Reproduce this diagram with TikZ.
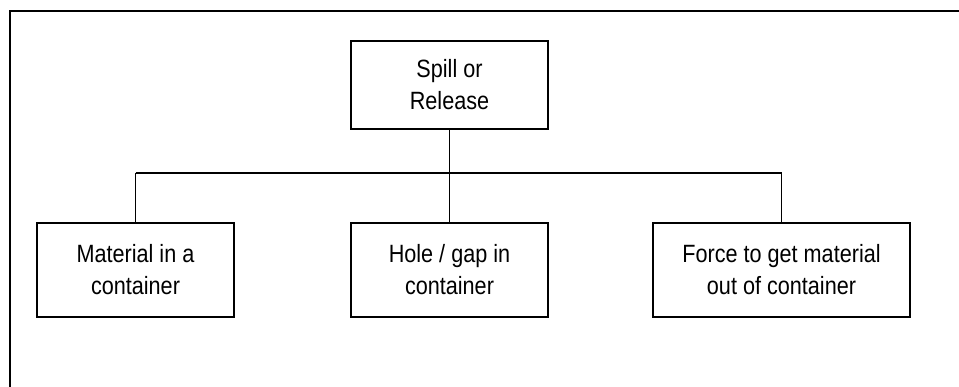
\documentclass[tikz,border=0pt]{standalone}
\usepackage{fontspec}
\setmainfont{Liberation Sans}[FakeStretch=0.865]
\begin{document}
\begin{tikzpicture}[x=1pt,y=-1pt,
  box/.style={draw=black,line width=2pt,align=center,inner sep=0pt,
    font=\fontsize{25}{32}\selectfont},
  link/.style={draw=black,line width=1.8pt}]
\useasboundingbox (0,0) rectangle (959,387);
% outer frame (top and left edges)
\draw[line width=2.6pt] (959,11) -- (10,11) -- (10,387);
% nodes
\node[box,minimum width=197pt,minimum height=88pt] (top) at (449.5,85) {Spill or\\Release};
\node[box,minimum width=197pt,minimum height=94pt] (left) at (135.5,270) {Material in a\\container};
\node[box,minimum width=197pt,minimum height=94pt] (mid) at (449.5,270) {Hole / gap in\\container};
\node[box,minimum width=257pt,minimum height=94pt] (right) at (781.5,270) {Force to get material\\out of container};
% bus coordinates
\coordinate (busL) at (135.5,173);
\coordinate (busM) at (449.5,173);
\coordinate (busR) at (781.5,173);
% connectors
\draw[link] (top.south) -- (busM);
\draw[link] (busL) -- (busR);
\draw[link] (busL) -- (left.north);
\draw[link] (busM) -- (mid.north);
\draw[link] (busR) -- (right.north);
\end{tikzpicture}
\end{document}
